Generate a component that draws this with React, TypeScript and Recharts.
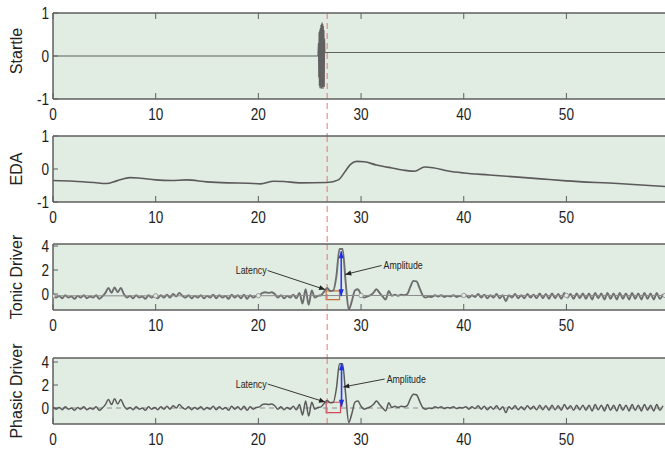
import React from "react";
import { CartesianGrid, Line, LineChart, ReferenceArea, ReferenceLine, XAxis, YAxis } from "recharts";

// ---- data ----
const X_MAX = 59.6;
const X_TICKS = [0, 10, 20, 30, 40, 50];
const EVENT_T = 26.7;
const STEP = 0.3; // sample spacing of the driver traces (s)

const startleTimes = [0, 25.8, 25.85, 25.88, 25.91, 25.94, 25.97, 26.0, 26.03, 26.06, 26.09, 26.12, 26.15, 26.18, 26.21, 26.24, 26.27, 26.3, 26.33, 26.36, 26.39, 26.42, 26.45, 26.48, 59.6];
const startleValues = [0, 0, 0.3, -0.5, 0.55, -0.7, 0.6, -0.75, 0.65, -0.7, 0.72, -0.76, 0.75, -0.74, 0.78, -0.72, 0.74, -0.77, 0.7, -0.7, 0.6, -0.72, 0.4, 0.08, 0.08];

const edaTimes = [0, 2, 4, 5.2, 6.2, 7.5, 8.5, 10, 11.5, 13, 15, 17, 19, 20.2, 21.5, 22.5, 24, 26.7, 27.8, 28.5, 29, 29.6, 30.3, 31.5, 33, 34.5, 35.2, 36.2, 37, 38.5, 40, 42.5, 45, 47.5, 50, 55, 59.6];
const edaValues = [-0.35, -0.37, -0.41, -0.44, -0.36, -0.26, -0.28, -0.33, -0.35, -0.33, -0.39, -0.42, -0.43, -0.45, -0.37, -0.38, -0.42, -0.41, -0.33, -0.05, 0.15, 0.23, 0.22, 0.12, 0.03, -0.05, -0.07, 0.06, 0.04, -0.06, -0.12, -0.18, -0.24, -0.3, -0.36, -0.44, -0.53];

const tonicDriver = [
  -0.1, -0.3, -0.15, -0.35, -0.1, -0.3, -0.2, -0.4, -0.15, -0.3,
  -0.1, -0.35, -0.2, -0.3, -0.1, -0.4, -0.2, 0.1, 0.5, 0.1,
  0.55, 0.15, 0.5, 0.0, -0.3, -0.15, -0.35, -0.1, -0.3, -0.2,
  -0.4, -0.1, -0.3, -0.15, -0.35, -0.1, -0.3, -0.05, -0.3, 0.0,
  -0.2, 0.1, -0.15, -0.3, -0.1, -0.35, -0.15, -0.3, -0.1, -0.35,
  -0.15, -0.3, -0.05, -0.35, -0.1, -0.3, -0.15, -0.4, -0.05, -0.3,
  -0.1, -0.35, -0.05, -0.4, -0.1, -0.3, -0.15, -0.1, 0.1, 0.15,
  0.1, 0.15, 0.0, -0.3, -0.1, -0.35, -0.15, -0.3, -0.05, -0.35,
  0.1, -0.8, 0.4, -0.9, 0.3, -0.3, -0.15, -0.1, 0.2, 0.5,
  0.25, 0.3, 1.5, 3.75, 3.75, 1.0, -1.3, -0.6, 0.3, 0.4,
  -0.05, -0.3, -0.2, -0.1, 0.1, 0.4, 0.1, -0.2, -0.45, 0.25,
  -0.15, -0.05, -0.15, -0.05, -0.1, 0.0, 0.6, 1.1, 1.05, 0.5,
  -0.1, -0.3, -0.2, -0.25, -0.1, -0.2, -0.1, -0.25, -0.15, -0.2,
  -0.1, -0.25, -0.15, -0.2, -0.1, -0.3, -0.1, -0.25, 0.0, -0.3,
  -0.05, -0.35, -0.1, -0.3, 0.0, -0.35, -0.1, -0.6, -0.1, -0.3,
  0.0, -0.35, -0.1, -0.35, 0.0, -0.3, -0.05, -0.35, 0.05, -0.35,
  0.0, -0.4, 0.05, -0.35, 0.0, -0.4, 0.1, -0.3, 0.0, -0.4,
  0.05, -0.35, 0.05, -0.4, 0.05, -0.45, 0.1, -0.35, 0.05, -0.45,
  0.1, -0.4, 0.05, -0.45, 0.1, -0.4, 0.05, -0.45, 0.1, -0.4,
  0.05, -0.45, 0.1, -0.4, 0.05, -0.45, 0.1, -0.4, 0.0,
];

const phasicDriver = [
  0.1, -0.1, 0.05, -0.15, 0.1, -0.1, 0.0, -0.2, 0.05, -0.1,
  0.1, -0.15, 0.0, -0.1, 0.1, -0.2, 0.0, 0.3, 0.75, 0.3,
  0.8, 0.35, 0.75, 0.2, -0.1, 0.05, -0.15, 0.1, -0.1, 0.0,
  -0.2, 0.1, -0.1, 0.05, -0.15, 0.1, -0.1, 0.15, -0.1, 0.2,
  0.0, 0.3, 0.05, -0.1, 0.1, -0.15, 0.05, -0.1, 0.1, -0.15,
  0.05, -0.1, 0.15, -0.15, 0.1, -0.1, 0.05, -0.2, 0.15, -0.1,
  0.1, -0.15, 0.15, -0.2, 0.1, -0.1, 0.05, 0.1, 0.3, 0.35,
  0.3, 0.35, 0.2, -0.1, 0.1, -0.15, 0.05, -0.1, 0.15, -0.15,
  0.3, -0.6, 0.6, -0.7, 0.5, -0.1, 0.05, 0.1, 0.4, 0.65,
  0.45, 0.5, 1.7, 3.85, 3.85, 1.2, -1.25, -0.5, 0.5, 0.6,
  0.15, -0.1, 0.0, 0.1, 0.3, 0.6, 0.3, 0.0, -0.25, 0.45,
  0.05, 0.15, 0.05, 0.15, 0.1, 0.2, 0.8, 1.2, 1.15, 0.6,
  0.05, -0.1, 0.0, -0.05, 0.1, 0.0, 0.1, -0.05, 0.05, 0.0,
  0.1, -0.05, 0.05, 0.0, 0.1, -0.1, 0.1, -0.05, 0.2, -0.1,
  0.15, -0.15, 0.1, -0.1, 0.2, -0.15, 0.1, -0.4, 0.1, -0.1,
  0.2, -0.15, 0.1, -0.15, 0.2, -0.1, 0.15, -0.15, 0.25, -0.15,
  0.2, -0.2, 0.25, -0.15, 0.2, -0.2, 0.3, -0.1, 0.2, -0.2,
  0.25, -0.15, 0.25, -0.2, 0.25, -0.25, 0.3, -0.15, 0.25, -0.25,
  0.3, -0.2, 0.25, -0.25, 0.3, -0.2, 0.25, -0.25, 0.3, -0.2,
  0.25, -0.25, 0.3, -0.2, 0.25, -0.25, 0.3, -0.2, 0.2,
];

const tonicLevelTimes = [0, 10, 20, 30, 40, 50, 59.6];
const tonicLevelValues = [-0.15, -0.15, -0.14, -0.12, -0.12, -0.12, -0.12];

// ---- style ----
const W = 665;
const BG = "#e1ece2";
const FRAME = "#5f5f5f";
const TRACE = "#5a5a5a";
const SANS = "'Liberation Sans', Arial, sans-serif";

const pairs = (ts: number[], vs: number[]) => ts.map((t, i) => ({ t, v: vs[i] }));
const sampled = (vs: number[]) => vs.map((v, i) => ({ t: Math.round(i * STEP * 100) / 100, v }));

const startleData = pairs(startleTimes, startleValues);
const edaData = pairs(edaTimes, edaValues);
const tonicData = sampled(tonicDriver);
const phasicData = sampled(phasicDriver);
const tonicLevelData = pairs(tonicLevelTimes, tonicLevelValues);

// Arial squeezed horizontally, standing in for the narrow face of the original
function NarrowText({ x, y, anchor, size, children }: any) {
  return (
    <text
      transform={`translate(${x},${y}) scale(0.8,1)`}
      textAnchor={anchor}
      dominantBaseline="central"
      fontFamily={SANS}
      fontSize={size}
      fill="#1e1e1e"
    >
      {children}
    </text>
  );
}

function BottomTick({ x, y, payload }: any) {
  return (
    <g>
      <line x1={x} x2={x} y1={y - 6} y2={y} stroke={FRAME} strokeWidth={1} />
      <NarrowText x={x} y={y + 15} anchor="middle" size={17}>
        {payload.value}
      </NarrowText>
    </g>
  );
}

function TopTick({ x, y }: any) {
  return <line x1={x} x2={x} y1={y} y2={y + 6} stroke={FRAME} strokeWidth={1} />;
}

function LeftTick({ x, y, payload }: any) {
  return (
    <g>
      <line x1={x} x2={x + 5} y1={y} y2={y} stroke={FRAME} strokeWidth={1} />
      <NarrowText x={x - 4} y={y} anchor="end" size={17}>
        {payload.value}
      </NarrowText>
    </g>
  );
}

function YTitle({ viewBox, value, dy = 0 }: any) {
  const cx = 16;
  const cy = viewBox.y + viewBox.height / 2 + dy;
  return (
    <text x={cx} y={cy} transform={`rotate(-90 ${cx} ${cy})`} textAnchor="middle" dominantBaseline="central" fontFamily={SANS} fontSize={16} fill="#222">
      {value}
    </text>
  );
}

function head(x: number, y: number, a: number, len: number, half: number) {
  const bx = x - len * Math.cos(a);
  const by = y - len * Math.sin(a);
  const px = half * Math.sin(a);
  const py = -half * Math.cos(a);
  return `${x},${y} ${bx + px},${by + py} ${bx - px},${by - py}`;
}

// annotation arrow: tail -> tip, text sits at the tail
function Arrow({ x1, y1, x2, y2, text, anchor }: any) {
  const a = Math.atan2(y2 - y1, x2 - x1);
  return (
    <g>
      <line x1={x1} y1={y1} x2={x2} y2={y2} stroke="#222" strokeWidth={0.9} />
      <polygon points={head(x2, y2, a, 6, 2.5)} fill="#222" />
      <NarrowText x={anchor === "end" ? x1 - 1 : x1 + 2} y={y1} anchor={anchor} size={11}>
        {text}
      </NarrowText>
    </g>
  );
}

function DoubleArrow({ x1, y1, x2, y2 }: any) {
  const a = Math.atan2(y2 - y1, x2 - x1);
  return (
    <g>
      <line x1={x1} y1={y1} x2={x2} y2={y2} stroke="#2a3cf0" strokeWidth={1.6} />
      <polygon points={head(x1, y1, a + Math.PI, 7, 2.6)} fill="#1f2fe0" />
      <polygon points={head(x2, y2, a, 7, 2.6)} fill="#1f2fe0" />
    </g>
  );
}

function EventLine({ x1, y1, y2, extend }: any) {
  return (
    <line x1={x1} x2={x1} y1={Math.min(y1, y2)} y2={Math.max(y1, y2) + extend} stroke="#f07272" strokeWidth={1} strokeDasharray="6 4" />
  );
}

const PAD = 12;
const BOTTOM = 30;

function Panel({ top, plotH, yDomain, yTicks, title, titleDy = 0, topTicks = false, extend, children }: any) {
  const h = PAD + plotH + BOTTOM;
  return (
    <div style={{ position: "absolute", left: 0, top: top - PAD, width: W, height: h }}>
      <LineChart width={W} height={h} margin={{ top: PAD - 1, right: 0, bottom: 0, left: 0 }}>
        <CartesianGrid fill={BG} stroke="none" horizontal={false} vertical={false} />
        <XAxis
          type="number"
          dataKey="t"
          domain={[0, X_MAX]}
          ticks={X_TICKS}
          interval={0}
          height={BOTTOM}
          tickSize={0}
          tickMargin={0}
          tickLine={false}
          axisLine={{ stroke: FRAME, strokeWidth: 1.5 }}
          tick={(p: any) => <BottomTick {...p} />}
          allowDataOverflow
        />
        <XAxis
          xAxisId="top"
          orientation="top"
          type="number"
          dataKey="t"
          domain={[0, X_MAX]}
          ticks={X_TICKS}
          interval={0}
          height={1}
          tickSize={0}
          tickMargin={0}
          tickLine={false}
          axisLine={{ stroke: FRAME, strokeWidth: 1.5 }}
          tick={topTicks ? (p: any) => <TopTick {...p} /> : () => <g />}
          allowDataOverflow
        />
        <YAxis
          type="number"
          domain={yDomain}
          ticks={yTicks}
          interval={0}
          width={53}
          tickSize={0}
          tickMargin={0}
          tickLine={false}
          axisLine={{ stroke: FRAME, strokeWidth: 1.5 }}
          tick={(p: any) => <LeftTick {...p} />}
          label={(p: any) => <YTitle {...p} value={title} dy={titleDy} />}
          allowDataOverflow
        />
        <ReferenceLine x={EVENT_T} ifOverflow="visible" shape={(p: any) => <EventLine {...p} extend={extend} />} />
        {children}
      </LineChart>
    </div>
  );
}

export default function App() {
  return (
    <div style={{ position: "absolute", left: 0, top: 0, width: W, height: 449, background: "#fff", overflow: "hidden" }}>
      <style>{`.recharts-surface{overflow:visible}`}</style>

      <Panel top={13} plotH={86} yDomain={[-1, 1]} yTicks={[-1, 0, 1]} title="Startle" titleDy={-5} topTicks extend={37}>
        <Line data={startleData} dataKey="v" type="linear" stroke="#616161" strokeWidth={1.1} dot={false} isAnimationActive={false} />
      </Panel>

      <Panel top={136} plotH={66} yDomain={[-1, 1]} yTicks={[-1, 0, 1]} title="EDA" extend={42}>
        <Line data={edaData} dataKey="v" type="monotone" stroke={TRACE} strokeWidth={1.6} dot={false} isAnimationActive={false} />
      </Panel>

      <Panel top={244} plotH={66} yDomain={[-1.33, 4.17]} yTicks={[0, 2, 4]} title="Tonic Driver" extend={48}>
        <Line data={tonicData} dataKey="v" type="monotone" stroke="#6e6e6e" strokeWidth={1.9} dot={false} isAnimationActive={false} />
        <Line
          data={tonicLevelData}
          dataKey="v"
          type="linear"
          stroke="#8a8a8a"
          strokeWidth={1}
          dot={{ r: 2.2, fill: BG, stroke: "#9a9a9a", strokeWidth: 1 }}
          isAnimationActive={false}
        />
        <ReferenceArea x1={26.6} x2={27.9} y1={-0.47} y2={0.27} fill="none" stroke="#c8703c" strokeWidth={1.2} ifOverflow="visible" />
        <ReferenceLine segment={[{ x: 28.07, y: 3.57 }, { x: 28.07, y: -0.18 }]} ifOverflow="visible" shape={(p: any) => <DoubleArrow {...p} />} />
        <ReferenceLine
          segment={[{ x: 20.9, y: 1.96 }, { x: 26.5, y: 0.37 }]}
          ifOverflow="visible"
          shape={(p: any) => <Arrow {...p} text="Latency" anchor="end" />}
        />
        <ReferenceLine
          segment={[{ x: 32.0, y: 2.38 }, { x: 28.46, y: 1.63 }]}
          ifOverflow="visible"
          shape={(p: any) => <Arrow {...p} text="Amplitude" anchor="start" />}
        />
      </Panel>

      <Panel top={358} plotH={66} yDomain={[-1.39, 4.35]} yTicks={[0, 2, 4]} title="Phasic Driver" extend={0}>
        <ReferenceLine y={0} stroke="#8c8c8c" strokeWidth={1} strokeDasharray="5 4" />
        <Line data={phasicData} dataKey="v" type="monotone" stroke={TRACE} strokeWidth={1.5} dot={false} isAnimationActive={false} />
        <ReferenceArea x1={26.6} x2={28.0} y1={-0.4} y2={0.5} fill="none" stroke="#d04a5a" strokeWidth={1.2} ifOverflow="visible" />
        <ReferenceLine segment={[{ x: 28.1, y: 3.89 }, { x: 28.1, y: 0.11 }]} ifOverflow="visible" shape={(p: any) => <DoubleArrow {...p} />} />
        <ReferenceLine
          segment={[{ x: 20.9, y: 2.09 }, { x: 26.5, y: 0.52 }]}
          ifOverflow="visible"
          shape={(p: any) => <Arrow {...p} text="Latency" anchor="end" />}
        />
        <ReferenceLine
          segment={[{ x: 32.3, y: 2.52 }, { x: 28.27, y: 1.83 }]}
          ifOverflow="visible"
          shape={(p: any) => <Arrow {...p} text="Amplitude" anchor="start" />}
        />
      </Panel>
    </div>
  );
}
